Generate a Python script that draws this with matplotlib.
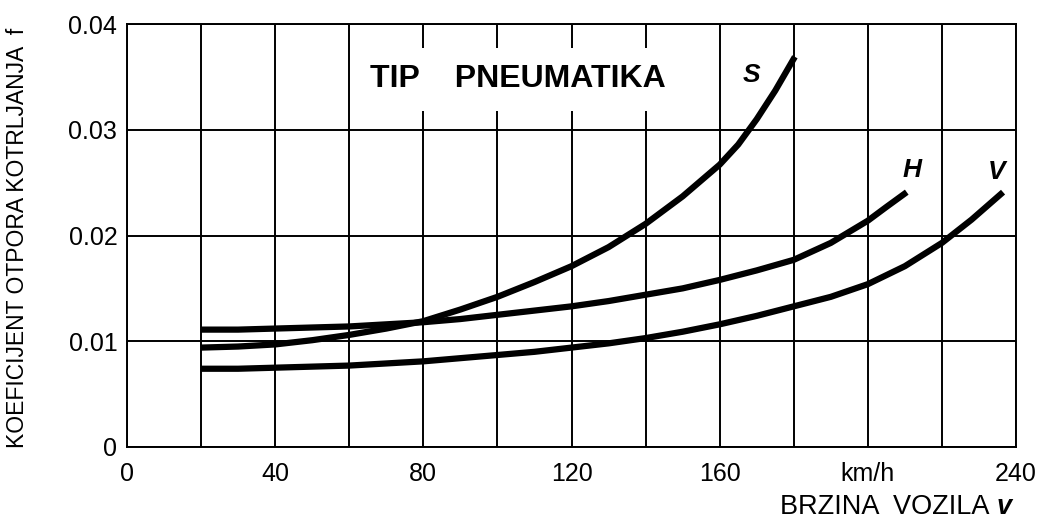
import matplotlib
matplotlib.use('Agg')
import matplotlib.pyplot as plt

# Rolling resistance coefficient vs. vehicle speed, by tyre type
speed_s = [20, 30, 40, 50, 60, 70, 80, 90, 100, 110, 120, 130, 140, 150, 160,
           165, 170, 175, 180.3]
coef_s = [0.0094, 0.0095, 0.0097, 0.0101, 0.0106, 0.0112, 0.0119, 0.0130, 0.0142,
          0.0156, 0.0171, 0.0189, 0.0211, 0.0237, 0.0267, 0.0286, 0.0310, 0.0337,
          0.0369]

speed_h = [20, 30, 40, 50, 60, 70, 80, 90, 100, 110, 120, 130, 140, 150, 160, 170,
           180, 190, 200, 205, 210.5]
coef_h = [0.0111, 0.0111, 0.0112, 0.0113, 0.0114, 0.0116, 0.0118, 0.0121, 0.0125,
          0.0129, 0.0133, 0.0138, 0.0144, 0.0150, 0.0158, 0.0167, 0.0177, 0.0193,
          0.0214, 0.0227, 0.0241]

speed_v = [20, 30, 40, 50, 60, 70, 80, 90, 100, 110, 120, 130, 140, 150, 160, 170,
           180, 190, 200, 210, 220, 228, 236.5]
coef_v = [0.0074, 0.0074, 0.0075, 0.0076, 0.0077, 0.0079, 0.0081, 0.0084, 0.0087,
          0.0090, 0.0094, 0.0098, 0.0103, 0.0109, 0.0116, 0.0124, 0.0133, 0.0142,
          0.0154, 0.0171, 0.0193, 0.0215, 0.0241]

x_ticks = list(range(0, 241, 20))
x_labels = ['0', '', '40', '', '80', '', '120', '', '160', '', 'km/h', '', '240']
y_ticks = [0, 0.01, 0.02, 0.03, 0.04]
y_labels = ['0', '0.01', '0.02', '0.03', '0.04']

fig = plt.figure(figsize=(10.41, 5.2), dpi=100)
ax = fig.add_axes([0.122, 0.1404, 0.854, 0.8134])

ax.set_xlim(0, 240)
ax.set_ylim(0, 0.04)
ax.set_xticks(x_ticks)
ax.set_xticklabels(x_labels, fontsize=18, family='Liberation Sans')
ax.set_yticks(y_ticks)
ax.set_yticklabels(y_labels, fontsize=18, family='Liberation Sans')
ax.tick_params(axis='x', length=0, pad=11)
ax.tick_params(axis='y', length=0, pad=7)
ax.grid(True, color='black', linewidth=1.4)
ax.set_axisbelow(True)
for sp in ax.spines.values():
    sp.set_linewidth(1.4)

for xs, ys in [(speed_s, coef_s), (speed_h, coef_h), (speed_v, coef_v)]:
    ax.plot(xs, ys, color='black', linewidth=4.5, solid_capstyle='butt', zorder=3)

ax.text(65.5, 0.0340, 'TIP    PNEUMATIKA', fontsize=23, fontweight='bold',
        family='Liberation Sans', va='baseline', ha='left',
        bbox=dict(facecolor='white', edgecolor='none', pad=12), zorder=2)

lbl = dict(fontsize=19, fontweight='bold', style='italic', family='Liberation Sans',
           ha='center', va='baseline', zorder=4)
ax.text(168.5, 0.0345, 'S', **lbl)
ax.text(212, 0.0255, 'H', **lbl)
ax.text(234.7, 0.0253, 'V', **lbl)

fig.text(0.017, 0.542, 'KOEFICIJENT OTPORA KOTRLJANJA  f', rotation=90,
         fontsize=16.5, family='Liberation Sans', ha='center', va='center')
fig.text(0.951, 0.012, 'BRZINA  VOZILA', fontsize=19.5,
         family='Liberation Sans', ha='right', va='baseline')
fig.text(0.957, 0.012, 'v', fontsize=19.5, fontweight='bold', style='italic',
         family='Liberation Sans', ha='left', va='baseline')

fig.savefig('out.png', dpi=100, facecolor='white')
